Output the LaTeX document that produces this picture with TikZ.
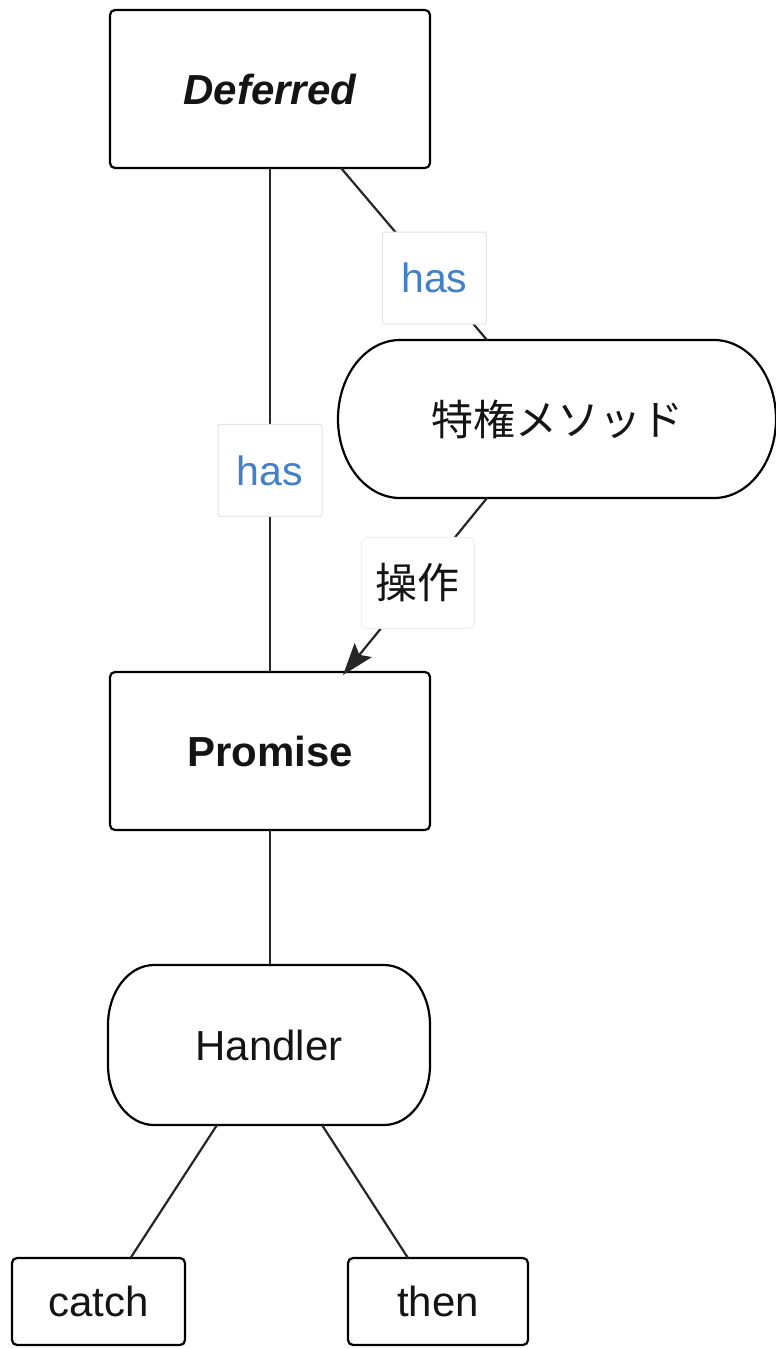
\documentclass[tikz,border=0pt]{standalone}
\usepackage{fontspec}
\setmainfont{Liberation Sans}
\newfontfamily\cjk{Noto Sans CJK JP}
\usetikzlibrary{arrows.meta,calc}
\definecolor{labblue}{RGB}{66,128,200}
\definecolor{labedge}{RGB}{228,228,228}
\definecolor{txt}{RGB}{20,20,20}
\begin{document}
\begin{tikzpicture}[x=1pt,y=-1pt,
  box/.style={draw=black,line width=2.2pt,rounded corners=5pt,inner sep=0pt,outer sep=0pt,font=\fontsize{42}{46}\selectfont,text=txt},
  pillnode/.style={inner sep=0pt,outer sep=0pt,font=\fontsize{42}{46}\selectfont,text=txt},
  outline/.style={draw=black,line width=2.2pt},
  conn/.style={line width=2.2pt,draw=black!85},
  lab/.style={fill=white,draw=labedge,line width=1pt,rounded corners=2pt,inner sep=0pt,minimum width=104pt,minimum height=92pt,font=\fontsize{41}{44}\selectfont}]
\useasboundingbox (0,0) rectangle (776,1349);
\node[box,minimum width=320pt,minimum height=158pt,font=\fontsize{42}{46}\selectfont\bfseries\itshape] (def) at (270,89) {Deferred};
\node[box,minimum width=320pt,minimum height=158pt,font=\fontsize{42}{46}\selectfont\bfseries] (prom) at (270,751) {Promise};
\node[pillnode,minimum width=438pt,minimum height=158pt,font=\fontsize{42}{46}\selectfont\cjk] (priv) at (557,419) {特権メソッド};
\draw[outline] ([xshift=62pt]priv.north west) -- ([xshift=-62pt]priv.north east)
  arc[start angle=90,end angle=-90,x radius=62pt,y radius=79pt]
  -- ([xshift=62pt]priv.south west)
  arc[start angle=270,end angle=90,x radius=62pt,y radius=79pt] -- cycle;
\node[pillnode,minimum width=322pt,minimum height=160pt] (hand) at (269,1045) {Handler};
\draw[outline] ([xshift=46pt]hand.north west) -- ([xshift=-46pt]hand.north east)
  arc[start angle=90,end angle=0,x radius=46pt,y radius=60pt]
  -- ([yshift=60pt]hand.south east)
  arc[start angle=0,end angle=-90,x radius=46pt,y radius=60pt]
  -- ([xshift=46pt]hand.south west)
  arc[start angle=270,end angle=180,x radius=46pt,y radius=60pt]
  -- ([yshift=-60pt]hand.north west)
  arc[start angle=180,end angle=90,x radius=46pt,y radius=60pt] -- cycle;
\node[box,minimum width=173pt,minimum height=87pt] (catch) at (98.5,1301.5) {catch};
\node[box,minimum width=180pt,minimum height=87pt] (then) at (438,1301.5) {then};
\draw[conn] (def.south) -- node[lab,pos=0.6,text=labblue] (l1) {has} (prom.north);
\draw[conn] ([xshift=71pt]def.south) -- node[lab,pos=0.64,text=labblue] (l2) {has} ([xshift=-70pt]priv.north);
\draw[conn,-{Stealth[length=32pt,width=22pt,inset=6pt]}] ([xshift=-70pt]priv.south) -- node[lab,pos=0.48,minimum width=113pt,minimum height=91pt,draw=labedge!60,rounded corners=6pt,text=txt,font=\fontsize{42}{46}\selectfont\cjk] (l3) {操作} ([xshift=73pt,yshift=-3pt]prom.north);
\draw[conn] (prom.south) -- (prom.south |- hand.north);
\draw[conn] ([xshift=-52pt]hand.south) -- ([xshift=32pt]catch.north);
\draw[conn] ([xshift=53pt]hand.south) -- ([xshift=-30pt]then.north);
\end{tikzpicture}
\end{document}
